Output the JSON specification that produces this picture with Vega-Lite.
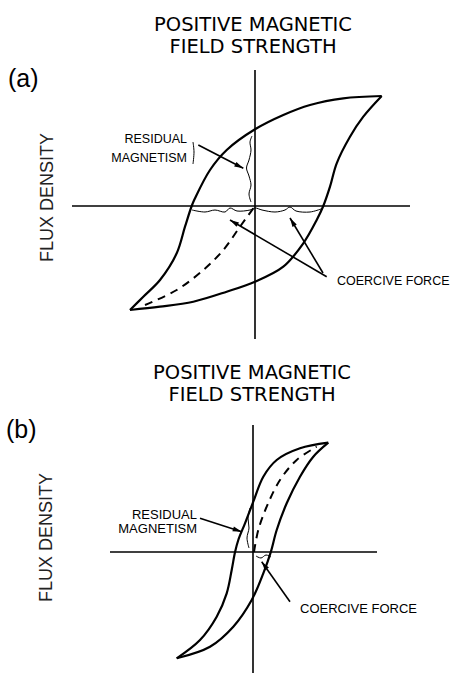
{
  "$schema": "https://vega.github.io/schema/vega-lite/v6.json",
  "padding": 0,
  "spacing": 0,
  "background": "white",
  "config": {"view": {"stroke": null}, "concat": {"spacing": 0}},
  "datasets": {
    "lines_a": [
      {"part": "H axis", "kind": "axis", "seq": 1, "H": -1.83, "B": 0},
      {"part": "H axis", "kind": "axis", "seq": 2, "H": 1.55, "B": 0},
      {"part": "B axis", "kind": "axis", "seq": 1, "H": 0, "B": 1.36},
      {"part": "B axis", "kind": "axis", "seq": 2, "H": 0, "B": -1.33},
      {"part": "descending", "kind": "loop", "seq": 1, "H": 1.267, "B": 1.10},
      {"part": "descending", "kind": "loop", "seq": 2, "H": 0.883, "B": 1.077},
      {"part": "descending", "kind": "loop", "seq": 3, "H": 0.55, "B": 1.01},
      {"part": "descending", "kind": "loop", "seq": 4, "H": 0.283, "B": 0.91},
      {"part": "descending", "kind": "loop", "seq": 5, "H": 0, "B": 0.767},
      {"part": "descending", "kind": "loop", "seq": 6, "H": -0.283, "B": 0.56},
      {"part": "descending", "kind": "loop", "seq": 7, "H": -0.45, "B": 0.36},
      {"part": "descending", "kind": "loop", "seq": 8, "H": -0.60, "B": 0.077},
      {"part": "descending", "kind": "loop", "seq": 9, "H": -0.633, "B": 0},
      {"part": "descending", "kind": "loop", "seq": 10, "H": -0.70, "B": -0.207},
      {"part": "descending", "kind": "loop", "seq": 11, "H": -0.783, "B": -0.473},
      {"part": "descending", "kind": "loop", "seq": 12, "H": -0.95, "B": -0.74},
      {"part": "descending", "kind": "loop", "seq": 13, "H": -1.117, "B": -0.907},
      {"part": "descending", "kind": "loop", "seq": 14, "H": -1.25, "B": -1.04},
      {"part": "ascending", "kind": "loop", "seq": 1, "H": -1.25, "B": -1.04},
      {"part": "ascending", "kind": "loop", "seq": 2, "H": -0.95, "B": -1.007},
      {"part": "ascending", "kind": "loop", "seq": 3, "H": -0.617, "B": -0.957},
      {"part": "ascending", "kind": "loop", "seq": 4, "H": -0.283, "B": -0.857},
      {"part": "ascending", "kind": "loop", "seq": 5, "H": 0, "B": -0.757},
      {"part": "ascending", "kind": "loop", "seq": 6, "H": 0.283, "B": -0.607},
      {"part": "ascending", "kind": "loop", "seq": 7, "H": 0.483, "B": -0.373},
      {"part": "ascending", "kind": "loop", "seq": 8, "H": 0.617, "B": -0.14},
      {"part": "ascending", "kind": "loop", "seq": 9, "H": 0.683, "B": 0},
      {"part": "ascending", "kind": "loop", "seq": 10, "H": 0.75, "B": 0.193},
      {"part": "ascending", "kind": "loop", "seq": 11, "H": 0.817, "B": 0.427},
      {"part": "ascending", "kind": "loop", "seq": 12, "H": 0.95, "B": 0.693},
      {"part": "ascending", "kind": "loop", "seq": 13, "H": 1.083, "B": 0.893},
      {"part": "ascending", "kind": "loop", "seq": 14, "H": 1.267, "B": 1.10},
      {"part": "initial", "kind": "initial", "seq": 1, "H": -1.10, "B": -0.99},
      {"part": "initial", "kind": "initial", "seq": 2, "H": -0.783, "B": -0.84},
      {"part": "initial", "kind": "initial", "seq": 3, "H": -0.517, "B": -0.64},
      {"part": "initial", "kind": "initial", "seq": 4, "H": -0.317, "B": -0.44},
      {"part": "initial", "kind": "initial", "seq": 5, "H": -0.15, "B": -0.207},
      {"part": "initial", "kind": "initial", "seq": 6, "H": 0, "B": 0},
      {"part": "residual brace", "kind": "bracket", "seq": 1, "H": -0.03, "B": 0.70},
      {"part": "residual brace", "kind": "bracket", "seq": 2, "H": -0.05, "B": 0.64},
      {"part": "residual brace", "kind": "bracket", "seq": 3, "H": -0.04, "B": 0.56},
      {"part": "residual brace", "kind": "bracket", "seq": 4, "H": -0.06, "B": 0.46},
      {"part": "residual brace", "kind": "bracket", "seq": 5, "H": -0.085, "B": 0.38},
      {"part": "residual brace", "kind": "bracket", "seq": 6, "H": -0.06, "B": 0.30},
      {"part": "residual brace", "kind": "bracket", "seq": 7, "H": -0.04, "B": 0.21},
      {"part": "residual brace", "kind": "bracket", "seq": 8, "H": -0.06, "B": 0.12},
      {"part": "residual brace", "kind": "bracket", "seq": 9, "H": -0.04, "B": 0.04},
      {"part": "coercive brace", "kind": "bracket", "seq": 1, "H": -0.63, "B": -0.04},
      {"part": "coercive brace", "kind": "bracket", "seq": 2, "H": -0.50, "B": -0.06},
      {"part": "coercive brace", "kind": "bracket", "seq": 3, "H": -0.40, "B": -0.04},
      {"part": "coercive brace", "kind": "bracket", "seq": 4, "H": -0.30, "B": -0.06},
      {"part": "coercive brace", "kind": "bracket", "seq": 5, "H": -0.25, "B": -0.02},
      {"part": "coercive brace", "kind": "bracket", "seq": 6, "H": -0.18, "B": -0.05},
      {"part": "coercive brace", "kind": "bracket", "seq": 7, "H": -0.05, "B": -0.04},
      {"part": "coercive brace", "kind": "bracket", "seq": 8, "H": 0, "B": -0.02},
      {"part": "coercive brace", "kind": "bracket", "seq": 9, "H": 0.07, "B": -0.04},
      {"part": "coercive brace", "kind": "bracket", "seq": 10, "H": 0.20, "B": -0.06},
      {"part": "coercive brace", "kind": "bracket", "seq": 11, "H": 0.30, "B": -0.04},
      {"part": "coercive brace", "kind": "bracket", "seq": 12, "H": 0.35, "B": -0.01},
      {"part": "coercive brace", "kind": "bracket", "seq": 13, "H": 0.41, "B": -0.05},
      {"part": "coercive brace", "kind": "bracket", "seq": 14, "H": 0.55, "B": -0.06},
      {"part": "coercive brace", "kind": "bracket", "seq": 15, "H": 0.66, "B": -0.03},
      {"part": "label tick", "kind": "bracket", "seq": 1, "H": -0.62, "B": 0.64},
      {"part": "label tick", "kind": "bracket", "seq": 2, "H": -0.61, "B": 0.54},
      {"part": "label tick", "kind": "bracket", "seq": 3, "H": -0.62, "B": 0.42},
      {"part": "residual arrow", "kind": "arrow", "seq": 1, "H": -0.567, "B": 0.61},
      {"part": "residual arrow", "kind": "arrow", "seq": 2, "H": -0.117, "B": 0.377},
      {"part": "coercive arrow left", "kind": "arrow", "seq": 1, "H": 0.717, "B": -0.707},
      {"part": "coercive arrow left", "kind": "arrow", "seq": 2, "H": -0.25, "B": -0.14},
      {"part": "coercive arrow right", "kind": "arrow", "seq": 1, "H": 0.68, "B": -0.67},
      {"part": "coercive arrow right", "kind": "arrow", "seq": 2, "H": 0.35, "B": -0.12}
    ],
    "heads_a": [
      {"part": "residual arrow", "H": -0.117, "B": 0.377, "dir": 117.4},
      {"part": "coercive arrow left", "H": -0.25, "B": -0.14, "dir": 300.4},
      {"part": "coercive arrow right", "H": 0.35, "B": -0.12, "dir": 329}
    ],
    "text_a": [
      {"role": "title", "label": "POSITIVE MAGNETIC\nFIELD STRENGTH", "H": -0.02, "B": 1.755},
      {"role": "panel", "label": "(a)", "H": -2.47, "B": 1.193},
      {"role": "axis", "label": "FLUX DENSITY", "H": -2.075, "B": 0.085},
      {"role": "residual", "label": "RESIDUAL", "H": -0.68, "B": 0.63},
      {"role": "residual", "label": "MAGNETISM", "H": -0.68, "B": 0.44},
      {"role": "coercive", "label": "COERCIVE FORCE", "H": 0.82, "B": -0.79}
    ],
    "lines_b": [
      {"part": "H axis", "kind": "axis", "seq": 1, "H": -1.43, "B": 0},
      {"part": "H axis", "kind": "axis", "seq": 2, "H": 1.24, "B": 0},
      {"part": "B axis", "kind": "axis", "seq": 1, "H": 0, "B": 1.27},
      {"part": "B axis", "kind": "axis", "seq": 2, "H": 0, "B": -1.21},
      {"part": "descending", "kind": "loop", "seq": 1, "H": 0.753, "B": 1.093},
      {"part": "descending", "kind": "loop", "seq": 2, "H": 0.47, "B": 1.037},
      {"part": "descending", "kind": "loop", "seq": 3, "H": 0.237, "B": 0.92},
      {"part": "descending", "kind": "loop", "seq": 4, "H": 0.103, "B": 0.753},
      {"part": "descending", "kind": "loop", "seq": 5, "H": 0.003, "B": 0.503},
      {"part": "descending", "kind": "loop", "seq": 6, "H": -0.08, "B": 0.287},
      {"part": "descending", "kind": "loop", "seq": 7, "H": -0.147, "B": 0.12},
      {"part": "descending", "kind": "loop", "seq": 8, "H": -0.18, "B": -0.003},
      {"part": "descending", "kind": "loop", "seq": 9, "H": -0.213, "B": -0.18},
      {"part": "descending", "kind": "loop", "seq": 10, "H": -0.263, "B": -0.413},
      {"part": "descending", "kind": "loop", "seq": 11, "H": -0.363, "B": -0.647},
      {"part": "descending", "kind": "loop", "seq": 12, "H": -0.53, "B": -0.88},
      {"part": "descending", "kind": "loop", "seq": 13, "H": -0.763, "B": -1.063},
      {"part": "ascending", "kind": "loop", "seq": 1, "H": -0.763, "B": -1.063},
      {"part": "ascending", "kind": "loop", "seq": 2, "H": -0.43, "B": -0.947},
      {"part": "ascending", "kind": "loop", "seq": 3, "H": -0.197, "B": -0.747},
      {"part": "ascending", "kind": "loop", "seq": 4, "H": -0.013, "B": -0.48},
      {"part": "ascending", "kind": "loop", "seq": 5, "H": 0.103, "B": -0.213},
      {"part": "ascending", "kind": "loop", "seq": 6, "H": 0.177, "B": -0.003},
      {"part": "ascending", "kind": "loop", "seq": 7, "H": 0.237, "B": 0.22},
      {"part": "ascending", "kind": "loop", "seq": 8, "H": 0.337, "B": 0.487},
      {"part": "ascending", "kind": "loop", "seq": 9, "H": 0.47, "B": 0.753},
      {"part": "ascending", "kind": "loop", "seq": 10, "H": 0.603, "B": 0.953},
      {"part": "ascending", "kind": "loop", "seq": 11, "H": 0.753, "B": 1.093},
      {"part": "initial", "kind": "initial", "seq": 1, "H": 0.01, "B": 0},
      {"part": "initial", "kind": "initial", "seq": 2, "H": 0.053, "B": 0.22},
      {"part": "initial", "kind": "initial", "seq": 3, "H": 0.137, "B": 0.453},
      {"part": "initial", "kind": "initial", "seq": 4, "H": 0.27, "B": 0.72},
      {"part": "initial", "kind": "initial", "seq": 5, "H": 0.437, "B": 0.92},
      {"part": "initial", "kind": "initial", "seq": 6, "H": 0.637, "B": 1.053},
      {"part": "residual brace", "kind": "bracket", "seq": 1, "H": -0.03, "B": 0.44},
      {"part": "residual brace", "kind": "bracket", "seq": 2, "H": -0.05, "B": 0.34},
      {"part": "residual brace", "kind": "bracket", "seq": 3, "H": -0.04, "B": 0.24},
      {"part": "residual brace", "kind": "bracket", "seq": 4, "H": -0.06, "B": 0.14},
      {"part": "residual brace", "kind": "bracket", "seq": 5, "H": -0.04, "B": 0.04},
      {"part": "coercive brace", "kind": "bracket", "seq": 1, "H": 0.03, "B": -0.04},
      {"part": "coercive brace", "kind": "bracket", "seq": 2, "H": 0.08, "B": -0.06},
      {"part": "coercive brace", "kind": "bracket", "seq": 3, "H": 0.13, "B": -0.03},
      {"part": "coercive brace", "kind": "bracket", "seq": 4, "H": 0.18, "B": -0.05},
      {"part": "residual arrow", "kind": "arrow", "seq": 1, "H": -0.53, "B": 0.337},
      {"part": "residual arrow", "kind": "arrow", "seq": 2, "H": -0.113, "B": 0.203},
      {"part": "coercive arrow", "kind": "arrow", "seq": 1, "H": 0.37, "B": -0.497},
      {"part": "coercive arrow", "kind": "arrow", "seq": 2, "H": 0.087, "B": -0.097}
    ],
    "heads_b": [
      {"part": "residual arrow", "H": -0.113, "B": 0.203, "dir": 107.8},
      {"part": "coercive arrow", "H": 0.087, "B": -0.097, "dir": 324.7}
    ],
    "text_b": [
      {"role": "title", "label": "POSITIVE MAGNETIC\nFIELD STRENGTH", "H": -0.01, "B": 1.735},
      {"role": "panel", "label": "(b)", "H": -2.47, "B": 1.14},
      {"role": "axis", "label": "FLUX DENSITY", "H": -2.063, "B": 0.145},
      {"role": "residual", "label": "RESIDUAL", "H": -0.56, "B": 0.33},
      {"role": "residual", "label": "MAGNETISM", "H": -0.56, "B": 0.19},
      {"role": "coercive", "label": "COERCIVE FORCE", "H": 0.47, "B": -0.61}
    ]
  },
  "vconcat": [
    {
      "width": 460,
      "height": 345,
      "encoding": {
        "x": {"field": "H", "type": "quantitative", "scale": {"domain": [-2.55, 2.05], "nice": false, "zero": false}, "axis": null},
        "y": {"field": "B", "type": "quantitative", "scale": {"domain": [-1.39, 2.06], "nice": false, "zero": false}, "axis": null}
      },
      "layer": [
        {"data": {"name": "lines_a"}, "transform": [{"filter": "datum.kind === 'axis'"}],
         "mark": {"type": "line", "color": "black", "strokeWidth": 1.6},
         "encoding": {"detail": {"field": "part"}, "order": {"field": "seq", "type": "quantitative"}}},
        {"data": {"name": "lines_a"}, "transform": [{"filter": "datum.kind === 'loop'"}],
         "mark": {"type": "line", "color": "black", "strokeWidth": 2.2, "interpolate": "catmull-rom"},
         "encoding": {"detail": {"field": "part"}, "order": {"field": "seq", "type": "quantitative"}}},
        {"data": {"name": "lines_a"}, "transform": [{"filter": "datum.kind === 'initial'"}],
         "mark": {"type": "line", "color": "black", "strokeWidth": 2, "strokeDash": [8, 6], "interpolate": "catmull-rom"},
         "encoding": {"detail": {"field": "part"}, "order": {"field": "seq", "type": "quantitative"}}},
        {"data": {"name": "lines_a"}, "transform": [{"filter": "datum.kind === 'bracket'"}],
         "mark": {"type": "line", "color": "black", "strokeWidth": 1, "interpolate": "catmull-rom"},
         "encoding": {"detail": {"field": "part"}, "order": {"field": "seq", "type": "quantitative"}}},
        {"data": {"name": "lines_a"}, "transform": [{"filter": "datum.kind === 'arrow'"}],
         "mark": {"type": "line", "color": "black", "strokeWidth": 1.6},
         "encoding": {"detail": {"field": "part"}, "order": {"field": "seq", "type": "quantitative"}}},
        {"data": {"name": "heads_a"},
         "mark": {"type": "point", "shape": "M0,0L0.5,1.8L-0.5,1.8Z", "filled": true, "color": "black", "opacity": 1, "size": 100},
         "encoding": {"angle": {"field": "dir", "type": "quantitative", "scale": null}}},
        {"data": {"name": "text_a"}, "transform": [{"filter": "datum.role === 'title'"}],
         "mark": {"type": "text", "font": "DejaVu Sans", "fontSize": 19.5, "lineHeight": 22, "lineBreak": "\n", "align": "center", "baseline": "alphabetic", "color": "black"},
         "encoding": {"text": {"field": "label"}}},
        {"data": {"name": "text_a"}, "transform": [{"filter": "datum.role === 'panel'"}],
         "mark": {"type": "text", "font": "Liberation Sans", "fontSize": 25, "align": "left", "baseline": "alphabetic", "color": "black"},
         "encoding": {"text": {"field": "label"}}},
        {"data": {"name": "text_a"}, "transform": [{"filter": "datum.role === 'axis'"}],
         "mark": {"type": "text", "font": "Liberation Sans", "fontSize": 18, "angle": 270, "align": "center", "baseline": "middle", "color": "#222"},
         "encoding": {"text": {"field": "label"}}},
        {"data": {"name": "text_a"}, "transform": [{"filter": "datum.role === 'residual'"}],
         "mark": {"type": "text", "font": "Liberation Sans", "fontSize": 12.5, "align": "right", "baseline": "alphabetic", "color": "black"},
         "encoding": {"text": {"field": "label"}}},
        {"data": {"name": "text_a"}, "transform": [{"filter": "datum.role === 'coercive'"}],
         "mark": {"type": "text", "font": "Liberation Sans", "fontSize": 12.5, "align": "left", "baseline": "alphabetic", "color": "black"},
         "encoding": {"text": {"field": "label"}}}
      ]
    },
    {
      "width": 460,
      "height": 330,
      "encoding": {
        "x": {"field": "H", "type": "quantitative", "scale": {"domain": [-2.53, 2.07], "nice": false, "zero": false}, "axis": null},
        "y": {"field": "B", "type": "quantitative", "scale": {"domain": [-1.23, 2.07], "nice": false, "zero": false}, "axis": null}
      },
      "layer": [
        {"data": {"name": "lines_b"}, "transform": [{"filter": "datum.kind === 'axis'"}],
         "mark": {"type": "line", "color": "black", "strokeWidth": 1.6},
         "encoding": {"detail": {"field": "part"}, "order": {"field": "seq", "type": "quantitative"}}},
        {"data": {"name": "lines_b"}, "transform": [{"filter": "datum.kind === 'loop'"}],
         "mark": {"type": "line", "color": "black", "strokeWidth": 2.2, "interpolate": "catmull-rom"},
         "encoding": {"detail": {"field": "part"}, "order": {"field": "seq", "type": "quantitative"}}},
        {"data": {"name": "lines_b"}, "transform": [{"filter": "datum.kind === 'initial'"}],
         "mark": {"type": "line", "color": "black", "strokeWidth": 2, "strokeDash": [8, 6], "interpolate": "catmull-rom"},
         "encoding": {"detail": {"field": "part"}, "order": {"field": "seq", "type": "quantitative"}}},
        {"data": {"name": "lines_b"}, "transform": [{"filter": "datum.kind === 'bracket'"}],
         "mark": {"type": "line", "color": "black", "strokeWidth": 1, "interpolate": "catmull-rom"},
         "encoding": {"detail": {"field": "part"}, "order": {"field": "seq", "type": "quantitative"}}},
        {"data": {"name": "lines_b"}, "transform": [{"filter": "datum.kind === 'arrow'"}],
         "mark": {"type": "line", "color": "black", "strokeWidth": 1.6},
         "encoding": {"detail": {"field": "part"}, "order": {"field": "seq", "type": "quantitative"}}},
        {"data": {"name": "heads_b"},
         "mark": {"type": "point", "shape": "M0,0L0.5,1.8L-0.5,1.8Z", "filled": true, "color": "black", "opacity": 1, "size": 100},
         "encoding": {"angle": {"field": "dir", "type": "quantitative", "scale": null}}},
        {"data": {"name": "text_b"}, "transform": [{"filter": "datum.role === 'title'"}],
         "mark": {"type": "text", "font": "DejaVu Sans", "fontSize": 19.5, "lineHeight": 22, "lineBreak": "\n", "align": "center", "baseline": "alphabetic", "color": "black"},
         "encoding": {"text": {"field": "label"}}},
        {"data": {"name": "text_b"}, "transform": [{"filter": "datum.role === 'panel'"}],
         "mark": {"type": "text", "font": "Liberation Sans", "fontSize": 25, "align": "left", "baseline": "alphabetic", "color": "black"},
         "encoding": {"text": {"field": "label"}}},
        {"data": {"name": "text_b"}, "transform": [{"filter": "datum.role === 'axis'"}],
         "mark": {"type": "text", "font": "Liberation Sans", "fontSize": 18, "angle": 270, "align": "center", "baseline": "middle", "color": "#222"},
         "encoding": {"text": {"field": "label"}}},
        {"data": {"name": "text_b"}, "transform": [{"filter": "datum.role === 'residual'"}],
         "mark": {"type": "text", "font": "Liberation Sans", "fontSize": 13, "align": "right", "baseline": "alphabetic", "color": "black"},
         "encoding": {"text": {"field": "label"}}},
        {"data": {"name": "text_b"}, "transform": [{"filter": "datum.role === 'coercive'"}],
         "mark": {"type": "text", "font": "Liberation Sans", "fontSize": 13, "align": "left", "baseline": "alphabetic", "color": "black"},
         "encoding": {"text": {"field": "label"}}}
      ]
    }
  ]
}
